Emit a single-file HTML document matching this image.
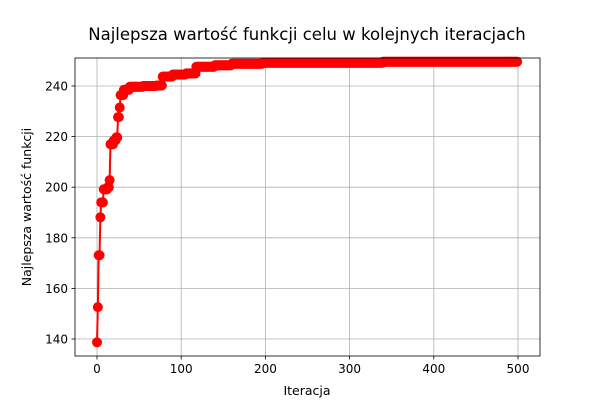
<!DOCTYPE html>
<html><head><meta charset="utf-8"><style>
body{margin:0;background:#fff;font-family:"Liberation Sans","DejaVu Sans",sans-serif;}
svg text{font-family:"DejaVu Sans","Liberation Sans",sans-serif;}
</style></head><body>
<svg id="chart" width="600" height="400" xmlns="http://www.w3.org/2000/svg">
<rect width="600" height="400" fill="#fff"/>
<g id="grid"></g><g id="series"></g><g id="axes"></g>
<text x="307" y="40" text-anchor="middle" font-size="16.5">Najlepsza wartość funkcji celu w kolejnych iteracjach</text>
<text x="307" y="395" text-anchor="middle" font-size="12.5">Iteracja</text>
<text transform="translate(31,207) rotate(-90)" text-anchor="middle" font-size="12.5">Najlepsza wartość funkcji</text>
</svg>
<script>
const breakIters=[0,1,2,4,5,8,13,15,16,20,23,25,27,28,32,39,55,71,78,90,106,118,140,160,197,340];
const breakValues=[138.7,152.6,173.1,188.1,194,199.2,200,202.8,217,218.5,219.7,227.7,231.5,236.4,238.5,239.7,240,240.2,243.7,244.5,245,247.6,248.2,248.8,249.2,249.6];
const nIter=500;
const xTicks=[0,100,200,300,400,500];
const yTicks=[140,160,180,200,220,240];
const L=75,R=540,T=58,B=356;
const xs=v=>97+(v/500)*(518-97);
const ys=v=>339-(v-140)*2.53;
const NS="http://www.w3.org/2000/svg";
function mk(t,a,p){const e=document.createElementNS(NS,t);for(const k in a)e.setAttribute(k,a[k]);p.appendChild(e);return e;}
const grid=document.getElementById('grid'),axes=document.getElementById('axes'),ser=document.getElementById('series');
xTicks.forEach(t=>{const x=xs(t);
 const g=mk('line',{x1:x,x2:x,y1:T,y2:B,stroke:'#b0b0b0','stroke-width':0.8},grid);
 
 
 const tk=mk('line',{x1:x,x2:x,y1:B,y2:B+3.5,stroke:'#000','stroke-width':0.8},axes);
 
 
 const tx=mk('text',{x:x,y:B+17,'text-anchor':'middle','font-size':12},axes);tx.textContent=t;
 
 
});
yTicks.forEach(t=>{const y=ys(t);
 const g=mk('line',{x1:L,x2:R,y1:y,y2:y,stroke:'#b0b0b0','stroke-width':0.8},grid);
 
 
 const tk=mk('line',{x1:L-3.5,x2:L,y1:y,y2:y,stroke:'#000','stroke-width':0.8},axes);
 
 
 const tx=mk('text',{x:L-7,y:y+4.5,'text-anchor':'end','font-size':12},axes);tx.textContent=t;
 
 
});
const fr=mk('rect',{x:L,y:T,width:R-L,height:B-T,fill:'none',stroke:'#000','stroke-width':0.8},axes);


const vals=[];let bi=0;
for(let i=0;i<nIter;i++){while(bi+1<breakIters.length&&breakIters[bi+1]<=i)bi++;vals.push(breakValues[bi]);}
const pts=vals.map((v,i)=>xs(i)+','+ys(v)).join(' ');
const pl=mk('polyline',{points:pts,fill:'none',stroke:'red','stroke-width':2},ser);


vals.forEach((v,i)=>{const c=mk('circle',{cx:xs(i),cy:ys(v),r:5,fill:'red'},ser);
 
 
});
</script>
</body></html>
